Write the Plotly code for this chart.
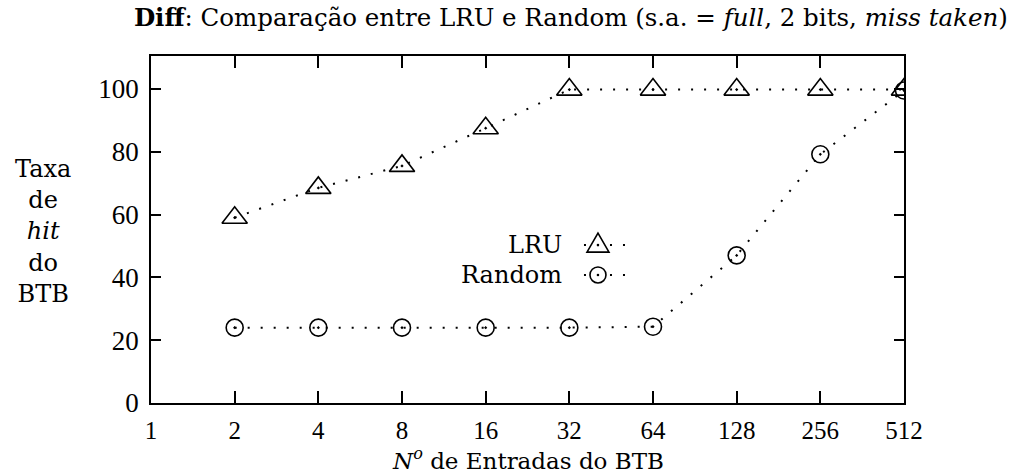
import plotly.graph_objects as go

# ---- data ----
entries = [2, 4, 8, 16, 32, 64, 128, 256, 512]
lru_hit = [59, 68.5, 75.5, 87.5, 99.8, 99.8, 99.8, 99.8, 99.8]
random_hit = [24, 24, 24, 24, 24, 24.3, 47, 79.2, 99.5]
x_ticks = [1, 2, 4, 8, 16, 32, 64, 128, 256, 512]
x_ticktext = [str(v) for v in x_ticks]
y_ticks = [0, 20, 40, 60, 80, 100]

TICKFONT = "Liberation Serif, DejaVu Serif, serif"
TEXTFONT = "DejaVu Serif, Liberation Serif, serif"
DASH = "2px,11px"

fig = go.Figure()
fig.add_trace(go.Scatter(
    x=entries, y=lru_hit, mode="lines+markers", name="LRU",
    line=dict(color="black", width=2, dash=DASH),
    marker=dict(symbol="triangle-up-open-dot", size=22, color="black",
                line=dict(width=1.6, color="black")),
    showlegend=False))
fig.add_trace(go.Scatter(
    x=entries, y=random_hit, mode="lines+markers", name="Random",
    line=dict(color="black", width=2, dash=DASH),
    marker=dict(symbol="circle-open-dot", size=17, color="black",
                line=dict(width=1.6, color="black")),
    showlegend=False))

axis_common = dict(showgrid=False, zeroline=False, showline=True, linecolor="black",
                   linewidth=1.5, mirror="ticks", ticks="inside", tickcolor="black",
                   tickwidth=1.5)

fig.update_xaxes(type="log", range=[0, 2.70927], tickvals=x_ticks, ticktext=x_ticktext,
                 ticklen=12, ticklabelstandoff=4,
                 tickfont=dict(family=TICKFONT, size=25, color="black"), **axis_common)
fig.update_yaxes(range=[0, 110.5], tickvals=y_ticks, ticklen=10,
                 ticklabelstandoff=5,
                 tickfont=dict(family=TICKFONT, size=27, color="black"), **axis_common)

# legend (drawn as layout decorations, text left of sample)
lx = 0.5936
legend_rows = [("LRU", 0.455, "tri"), ("Random", 0.369, "circ")]
shapes = []
annotations = []
for label, ly, kind in legend_rows:
    annotations.append(dict(text=label, xref="paper", yref="paper", x=0.548, y=ly,
                            xanchor="right", yanchor="middle", showarrow=False,
                            font=dict(family=TEXTFONT, size=24, color="black")))
    shapes.append(dict(type="line", xref="paper", yref="paper", xsizemode="pixel",
                       ysizemode="pixel", xanchor=lx, yanchor=ly, x0=-14, x1=27, y0=0, y1=0,
                       line=dict(color="black", width=2, dash=DASH)))
    if kind == "tri":
        shapes.append(dict(type="path", xref="paper", yref="paper", xsizemode="pixel",
                           ysizemode="pixel", xanchor=lx, yanchor=ly,
                           path="M -11 -7 L 11 -7 L 0 12 Z",
                           line=dict(color="black", width=1.6)))
    else:
        shapes.append(dict(type="circle", xref="paper", yref="paper", xsizemode="pixel",
                           ysizemode="pixel", xanchor=lx, yanchor=ly, x0=-8, x1=8, y0=-8, y1=8,
                           line=dict(color="black", width=1.6)))
    shapes.append(dict(type="circle", xref="paper", yref="paper", xsizemode="pixel",
                       ysizemode="pixel", xanchor=lx, yanchor=ly, x0=-1.3, x1=1.3, y0=-1.3, y1=1.3,
                       fillcolor="black", line=dict(color="black", width=0)))

# y-axis title (stacked)
annotations.append(dict(text="Taxa<br>de<br><i>hit</i><br>do<br>BTB", xref="paper", yref="paper",
                        x=-0.143, y=0.493, xanchor="center", yanchor="middle", showarrow=False,
                        align="center", font=dict(family=TEXTFONT, size=24, color="black")))
# x-axis title
annotations.append(dict(text="<i>N<sup>o</sup></i> de Entradas do BTB", xref="paper", yref="paper",
                        x=0.501, y=-0.208, xanchor="center", yanchor="bottom", showarrow=False,
                        borderpad=0,
                        font=dict(family=TEXTFONT, size=23, color="black")))

fig.update_layout(
    width=1023, height=476,
    margin=dict(l=151, r=119, t=56, b=73),
    paper_bgcolor="white", plot_bgcolor="white",
    title=dict(text="<b>Diff</b>: Comparação entre LRU e Random (s.a. = <i>full</i>, 2 bits, <i>miss taken</i>)",
               x=0.558, xanchor="center", y=0.963, yanchor="middle", xref="container", yref="container",
               font=dict(family=TEXTFONT, size=24.5, color="black")),
    shapes=shapes, annotations=annotations,
)

fig.write_html("out.html")
